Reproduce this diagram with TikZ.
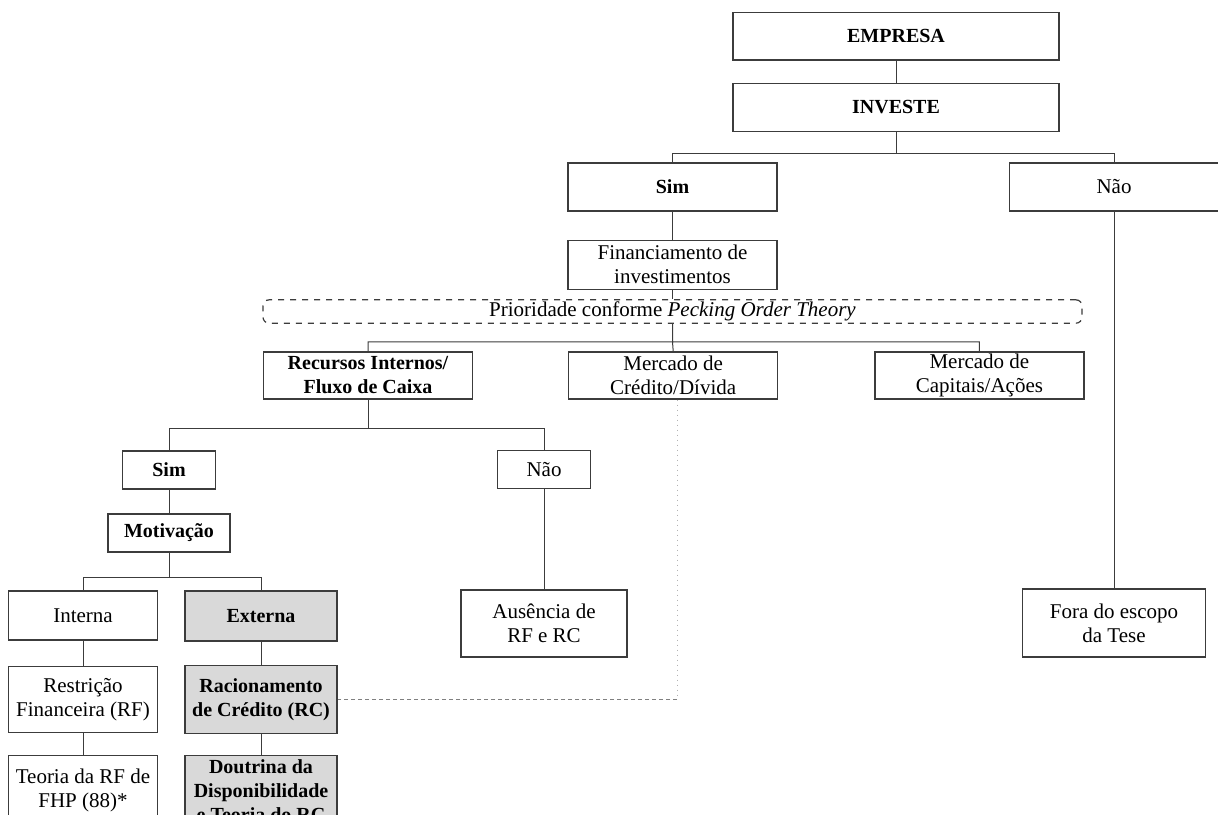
\documentclass[tikz,border=0pt]{standalone}
\usepackage{fontspec}
\setmainfont{Liberation Serif}
\usetikzlibrary{positioning,calc}
\definecolor{boxgray}{HTML}{D9D9D9}
\definecolor{linegray}{HTML}{3C3C3C}

\begin{document}
\begin{tikzpicture}[x=0.5pt,y=-0.5pt, font=\fontsize{10.5}{12}\selectfont,
   box/.style={draw=linegray, line width=0.6pt, align=center, inner sep=1pt,
     minimum width=104.5pt, minimum height=24pt},
   bold/.style={font=\fontsize{10}{12}\selectfont\bfseries},
   shaded/.style={box, bold, fill=boxgray},
   link/.style={draw=linegray, line width=0.5pt}]
   \useasboundingbox (0,0) rectangle (1218,814);
   \clip (0,0) rectangle (1218,814);

   \node[box, bold, minimum width=163pt, minimum height=23.7pt] (empresa) at (896,36.3) {EMPRESA};
   \node[box, bold, minimum width=163pt, minimum height=23.7pt] (investe) [below=11.3pt of empresa] {INVESTE};
   \node[box, bold] (sim) at (672.5,187) {Sim};
   \node[box] (nao) at (1114,187) {Não};
   \node[box, minimum height=24.5pt] (financ) [below=14pt of sim] {Financiamento de\\investimentos};
   \node[box, dashed, rounded corners=3pt, minimum width=409.5pt, minimum height=11.5pt] (prior) at (672.5,311.5)
   {Prioridade conforme \textit{Pecking Order Theory}};

   \node[box, bold, minimum height=23.5pt] (recursos) at (368,375.5) {Recursos Internos/\\Fluxo de Caixa};
   \node[box, minimum height=23.5pt] (credito) [right=47.5pt of recursos] {Mercado de\\Crédito/Dívida};
   \node[box, minimum height=23.5pt] (capitais) [right=48pt of credito] {Mercado de\\Capitais/Ações};

   \node[box, bold, minimum width=46.5pt, minimum height=19pt] (simB) at (169,470) {Sim};
   \node[box, minimum width=46.5pt, minimum height=19pt] (naoB) at (544,469.5) {Não};
   \node[box, bold, minimum width=61pt, minimum height=19pt] (motiv) [below=11.85pt of simB] {Motivação};

   \node[box, minimum width=74.5pt, minimum height=24.5pt] (interna) at (83,615.5) {Interna};
   \node[shaded, minimum width=76pt, minimum height=25pt] (externa) at (261,616) {Externa};
   \node[box, minimum width=74.5pt, minimum height=33pt] (restricao) [below=12.5pt of interna] {Restrição\\Financeira (RF)};
   \node[shaded, minimum width=76pt, minimum height=34pt] (racion) [below=11.5pt of externa] {Racionamento\\de Crédito (RC)};
   \node[box, minimum width=74.5pt, minimum height=35pt] (teoria) [below=11pt of restricao] {Teoria da RF de\\FHP (88)*};
   \node[shaded, minimum width=76pt, minimum height=35pt] (doutrina) [below=10.5pt of racion] {Doutrina da\\Disponibilidade\\e Teoria do RC};

   \node[box, minimum width=83pt, minimum height=33.5pt] (ausencia) at (544,623.5) {Ausência de\\RF e RC};
   \node[box, minimum width=91.5pt, minimum height=34pt] (fora) at (1114,623) {Fora do escopo\\da Tese};

   \path[link]
     (empresa) edge (investe)
     (sim) edge (financ)
     (financ) edge (prior)
     (nao) edge (fora)
     (simB) edge (motiv)
     (naoB) edge (ausencia)
     (interna) edge (restricao)
     (restricao) edge (teoria)
     (externa) edge (racion)
     (racion) edge (doutrina)
     ;

   \draw[link] (investe.south) -- ++(0,22) coordinate (jInv) -| (sim.north) (jInv) -| (nao.north);
   \draw[link] (prior.south) -- ++(0,18) coordinate (jPrior) -| (recursos.north)
     (jPrior) -| (capitais.north) (jPrior) -- (credito.north);
   \draw[link] (recursos.south) -- ++(0,29) coordinate (jRec) -| (simB.north) (jRec) -| (naoB.north);
   \draw[link] (motiv.south) -- ++(0,25) coordinate (jMot) -| (interna.north) (jMot) -| (externa.north);

   \coordinate (corner) at ([xshift=2pt]credito.south |- racion.east);
   \draw[gray!60, line width=0.5pt, dotted] ([xshift=2pt]credito.south) -- (corner);
   \draw[gray, line width=0.5pt, dash pattern=on 2pt off 1.5pt] (corner) -- (racion.east);
\end{tikzpicture}
\end{document}
